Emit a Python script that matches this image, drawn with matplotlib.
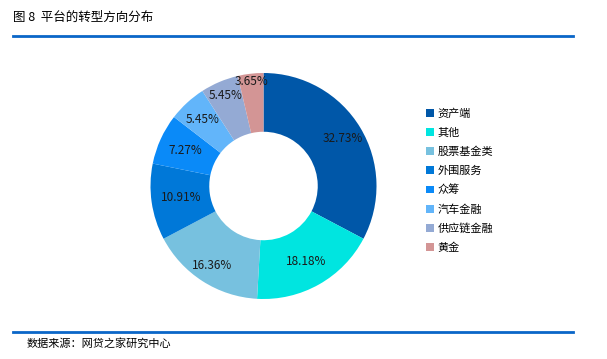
import numpy as np
import matplotlib.pyplot as plt
from matplotlib.lines import Line2D
from matplotlib.patches import Patch

plt.rcParams['font.family'] = ['Noto Sans CJK SC', 'DejaVu Sans']

# ---------- DATA ----------
categories = ["资产端", "其他", "股票基金类", "外围服务", "众筹", "汽车金融", "供应链金融", "黄金"]
shares = [32.73, 18.18, 16.36, 10.91, 7.27, 5.45, 5.45, 3.65]
colors = ["#0057A8", "#00E5E0", "#77C1DF", "#0078D8", "#0A8AF8", "#62B5FA", "#94AAD4", "#D39595"]

# label distance from centre (fraction of radius), per slice
label_r = [0.82, 0.77, 0.84, 0.74, 0.76, 0.80, 0.87, 0.93]

W, H = 607, 359
fig = plt.figure(figsize=(W / 100, H / 100), dpi=100)

# title + rules
fig.text(13 / W, 1 - 17 / H, "图 8  平台的转型方向分布", fontsize=9, va="center", ha="left")
fig.add_artist(Line2D([13 / W, 573 / W], [1 - 35.5 / H] * 2, color="#0A66C8", lw=2))
fig.add_artist(Line2D([13 / W, 573 / W], [1 - 332 / H] * 2, color="#0A66C8", lw=2))
fig.text(27 / W, 1 - 343 / H, "数据来源：网贷之家研究中心", fontsize=8, va="center", ha="left")

# ---------- DONUT ----------
cx, cy, r = 263.5, 186, 113
ax = fig.add_axes([(cx - r) / W, 1 - (cy + r) / H, 2 * r / W, 2 * r / H])
wedges, _ = ax.pie(shares, colors=colors, startangle=90, counterclock=False,
                   wedgeprops=dict(width=0.52, edgecolor="none"))
for w, v, d in zip(wedges, shares, label_r):
    a = np.deg2rad((w.theta1 + w.theta2) / 2)
    ax.text(d * np.cos(a), d * np.sin(a), f"{v:.2f}%", ha="center", va="center",
            fontsize=8.5, color="#1a1a1a")
ax.set_xlim(-1, 1)
ax.set_ylim(-1, 1)
ax.set_aspect("equal")

# ---------- LEGEND ----------
handles = [Patch(facecolor=c, edgecolor="none") for c in colors]
fig.legend(handles, categories, loc="upper left", bbox_to_anchor=(422 / W, 1 - 104 / H),
           frameon=False, fontsize=8, handlelength=0.7, handleheight=0.7,
           handletextpad=0.3, labelspacing=0.78, borderaxespad=0)

fig.savefig("out.png", dpi=100)
